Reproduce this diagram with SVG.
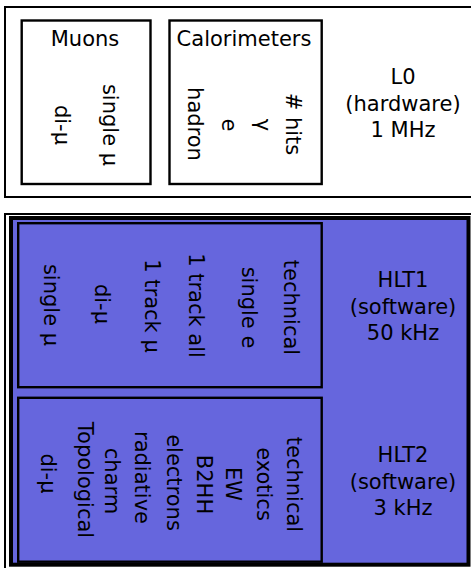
<svg xmlns="http://www.w3.org/2000/svg" width="471" height="568" viewBox="0 0 471 568">
<style>
text{font-family:"DejaVu Sans","Liberation Sans",sans-serif;font-size:21px;fill:#000}
.mid{text-anchor:middle}
.frame{fill:#fff;stroke:#000;stroke-width:2}
.box{fill:none;stroke:#000;stroke-width:2.4}
.blue{fill:#6666dd;stroke:#000;stroke-width:4}
</style>
<g id="L0">
<rect class="frame" x="5" y="7" width="500" height="190"/>
<text class="mid" x="403" y="84">L0</text>
<text class="mid" x="403" y="110.5">(hardware)</text>
<text class="mid" x="403" y="137">1 MHz</text>
</g>
<g id="muons">
<rect class="box" x="21.7" y="20.5" width="128.8" height="163.5"/>
<text class="mid" x="85" y="45.7">Muons</text>
<text class="mid" transform="translate(103,125) rotate(90)">single μ</text>
<text class="mid" transform="translate(55,125) rotate(90)">di-μ</text>
</g>
<g id="calorimeters">
<rect class="box" x="169.5" y="20.5" width="152.2" height="163.5"/>
<text class="mid" x="244" y="45.7">Calorimeters</text>
<text class="mid" transform="translate(286,124) rotate(90)"># hits</text>
<text class="mid" transform="translate(256,125) rotate(90)">γ</text>
<text class="mid" transform="translate(222,125) rotate(90)">e</text>
<text class="mid" transform="translate(188,124) rotate(90)">hadron</text>
</g>
<g id="HLT">
<rect class="frame" x="5" y="214" width="500" height="400"/>
<rect class="blue" x="11" y="218" width="457.5" height="346.7"/>
</g>
<g id="HLT1">
<text class="mid" x="403" y="287">HLT1</text>
<text class="mid" x="403" y="313.5">(software)</text>
<text class="mid" x="403" y="340">50 kHz</text>
</g>
<g id="HLT1-lines">
<rect class="box" x="18.2" y="223.2" width="303.5" height="164"/>
<text class="mid" transform="translate(284,307.5) rotate(90)">technical</text>
<text class="mid" transform="translate(242,307.5) rotate(90)">single e</text>
<text class="mid" transform="translate(189,305.5) rotate(90)">1 track all</text>
<text class="mid" transform="translate(145,306) rotate(90)">1 track μ</text>
<text class="mid" transform="translate(95,304) rotate(90)">di-μ</text>
<text class="mid" transform="translate(44,305) rotate(90)">single μ</text>
</g>
<g id="HLT2">
<text class="mid" x="403" y="462">HLT2</text>
<text class="mid" x="403" y="488.5">(software)</text>
<text class="mid" x="403" y="515">3 kHz</text>
</g>
<g id="HLT2-lines">
<rect class="box" x="18.2" y="397.8" width="303.5" height="163.9"/>
<text class="mid" transform="translate(287,484.5) rotate(90)">technical</text>
<text class="mid" transform="translate(257,484) rotate(90)">exotics</text>
<text class="mid" transform="translate(226,484) rotate(90)">EW</text>
<text class="mid" transform="translate(197,484.5) rotate(90)">B2HH</text>
<text class="mid" transform="translate(167,482.5) rotate(90)">electrons</text>
<text class="mid" transform="translate(135,477.5) rotate(90)">radiative</text>
<text class="mid" transform="translate(105,481) rotate(90)">charm</text>
<text class="mid" transform="translate(78,480) rotate(90)">Topological</text>
<text class="mid" transform="translate(41,473.5) rotate(90)">di-μ</text>
</g>
</svg>
